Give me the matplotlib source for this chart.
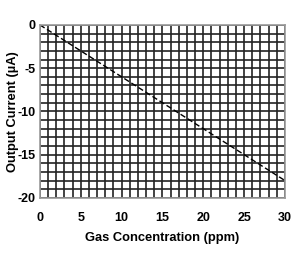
import numpy as np
import matplotlib
matplotlib.use('Agg')
import matplotlib.pyplot as plt

# gas concentration (ppm) vs output current (uA)
conc = [0, 10, 20, 30]
current = [0, -6, -12, -18]
xticks = [0, 5, 10, 15, 20, 25, 30]
yticks = [0, -5, -10, -15, -20]

plt.rcParams['font.family'] = ['Liberation Sans', 'DejaVu Sans']

fig = plt.figure(figsize=(3.0, 2.57), dpi=100)
ax = fig.add_axes([0.133, 0.23, 0.817, 0.673])

ax.set_xlim(0, 30)
ax.set_ylim(-20, 0)
ax.set_xticks(np.arange(0, 31, 1), minor=True)
ax.set_yticks(np.arange(-20, 1, 1), minor=True)
ax.set_xticks(xticks)
ax.set_yticks(yticks)
ax.set_xticklabels([str(v) for v in xticks], fontweight='bold', fontsize=9)
ax.set_yticklabels([str(v) for v in yticks], fontweight='bold', fontsize=9)
ax.tick_params(which='both', length=0)
ax.tick_params(axis='x', pad=10)
ax.tick_params(axis='y', pad=3)
ax.grid(which='both', color='#222222', linewidth=1.2)
ax.set_axisbelow(True)
for s in ax.spines.values():
    s.set_color('#999999')
    s.set_linewidth(1.2)

ax.plot(conc, current, color='black', linestyle=(0, (4, 2)), linewidth=1.0)

ax.set_xlabel('Gas Concentration (ppm)', fontweight='bold', fontsize=9.3)
ax.set_ylabel('Output Current (µA)', fontweight='bold', fontsize=9.3)
ax.xaxis.set_label_coords(0.5, -0.2)
ax.yaxis.set_label_coords(-0.085, 0.5)

fig.savefig('out.png', dpi=100)
